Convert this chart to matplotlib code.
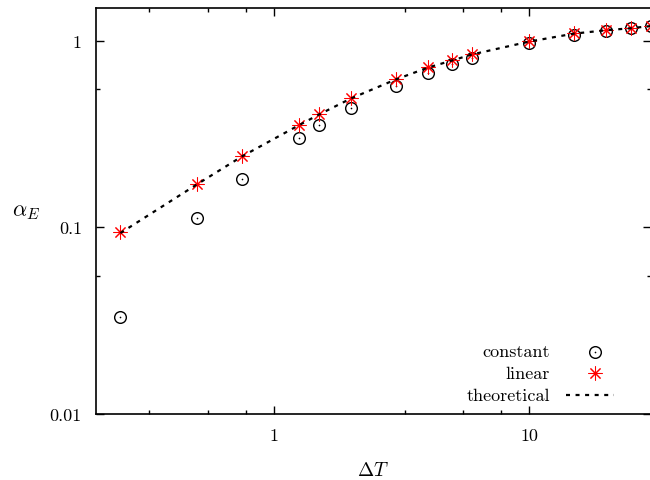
import matplotlib
matplotlib.use("Agg")
import matplotlib.pyplot as plt
from matplotlib.ticker import FixedLocator, NullFormatter

plt.rcParams['font.family'] = 'serif'
plt.rcParams['font.serif'] = ['cmr10', 'DejaVu Serif']
plt.rcParams['mathtext.fontset'] = 'cm'
plt.rcParams['axes.formatter.use_mathtext'] = True

# values
dt = [0.25, 0.5, 0.75, 1.25, 1.5, 2.0, 3.0, 4.0, 5.0, 6.0, 10.0, 15.0, 20.0, 25.0, 30.0]
alpha_constant = [0.0329, 0.1116, 0.181, 0.300, 0.352, 0.437, 0.569, 0.671, 0.750,
                  0.808, 0.968, 1.073, 1.123, 1.166, 1.199]
alpha_linear = [0.0939, 0.1715, 0.242, 0.355, 0.405, 0.493, 0.623, 0.720, 0.788,
                0.849, 0.993, 1.096, 1.141, 1.170, 1.203]
alpha_theory = [0.0930, 0.1700, 0.240, 0.352, 0.402, 0.490, 0.620, 0.717, 0.785,
                0.846, 0.990, 1.093, 1.139, 1.168, 1.200]

x_major = [1, 10]
x_minor = [0.325, 0.55, 0.775, 3.25, 5.5, 7.75, 32.5]
y_major = [0.01, 0.1, 1]
y_major_labels = ['0.01', '0.1', '1']
y_minor = [0.055, 0.55]

fs = 13

fig = plt.figure(figsize=(6.5, 4.81), dpi=100)
ax = fig.add_axes([95.7 / 650, 66.5 / 481, 555.1 / 650, 405.5 / 481])
ax.set_xscale('log')
ax.set_yscale('log')

star = dict(marker=(8, 2, 0), markersize=10, markeredgecolor='#ff0000', markeredgewidth=0.75)
circ = dict(marker='o', markersize=8.4, markerfacecolor='none', markeredgecolor='black',
            markeredgewidth=1.0)
dot = dict(marker='o', markersize=1.2, markerfacecolor='black', markeredgewidth=0)
dash = dict(color='black', linewidth=1.6, linestyle=(0, (1.8, 2.5)))

ax.plot(dt, alpha_constant, linestyle='none', **circ)
ax.plot(dt, alpha_constant, linestyle='none', **dot)
ax.plot(dt, alpha_linear, linestyle='none', **star)
ax.plot(dt, alpha_theory, **dash)

ax.set_xlim(0.2, 30)
ax.set_ylim(0.01, 1.5)

ax.xaxis.set_major_locator(FixedLocator(x_major))
ax.xaxis.set_minor_locator(FixedLocator(x_minor))
ax.set_xticklabels([str(v) for v in x_major])
ax.xaxis.set_minor_formatter(NullFormatter())
ax.yaxis.set_major_locator(FixedLocator(y_major))
ax.yaxis.set_minor_locator(FixedLocator(y_minor))
ax.set_yticklabels(y_major_labels)
ax.yaxis.set_minor_formatter(NullFormatter())

ax.tick_params(which='both', direction='in', top=True, right=True, width=1.0,
               labelsize=fs, pad=10)
ax.tick_params(which='major', length=5.5)
ax.tick_params(which='minor', length=2.8)
for s in ax.spines.values():
    s.set_linewidth(1.2)
ax.spines['right'].set_visible(False)

ax.set_xlabel(r'$\Delta T$', fontsize=14, labelpad=13)
ax.set_ylabel(r'$\alpha_E$', fontsize=16, rotation=0, ha='center', va='center')
ax.yaxis.set_label_coords(-0.1256, 0.5)

# gnuplot style key: right aligned text, sample on the right
rows = [0.1524, 0.0991, 0.0456]
labels = ['constant', 'linear', 'theoretical']
for yy, lab in zip(rows, labels):
    ax.text(0.8184, yy, lab, transform=ax.transAxes, ha='right', va='center', fontsize=fs)
ax.plot([0.8995], [rows[0]], transform=ax.transAxes, linestyle='none', **circ)
ax.plot([0.8995], [rows[0]], transform=ax.transAxes, linestyle='none', **dot)
ax.plot([0.8995], [rows[1]], transform=ax.transAxes, linestyle='none', **star)
ax.plot([0.8467, 0.9339], [rows[2], rows[2]], transform=ax.transAxes, **dash)

fig.savefig('out.png', dpi=100)
